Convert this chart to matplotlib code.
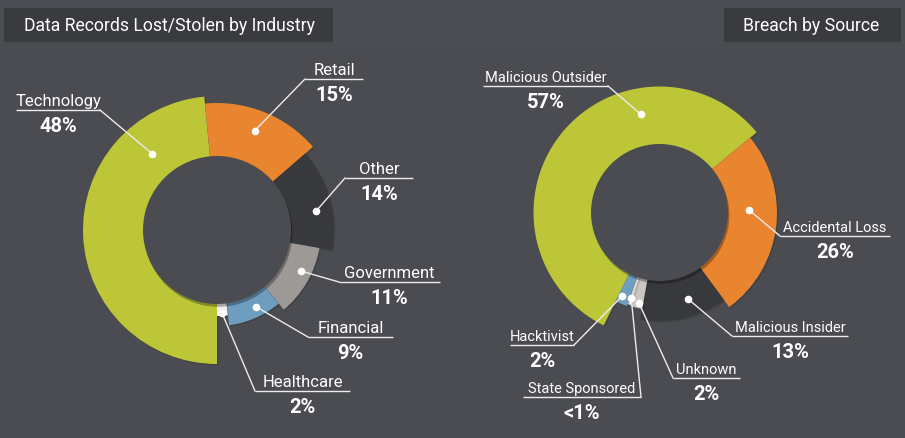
import matplotlib
matplotlib.use('Agg')
import matplotlib.pyplot as plt
import matplotlib.patheffects as pe
from matplotlib.patches import Wedge, Circle, Rectangle
import numpy as np

W, H = 905, 439

# --- data -------------------------------------------------------------
industry_names = ['Technology', 'Retail', 'Other', 'Government', 'Financial', 'Healthcare']
industry_values = [48, 15, 14, 11, 9, 2]
industry_pct = ['48%', '15%', '14%', '11%', '9%', '2%']

source_names = ['Malicious Outsider', 'Accidental Loss', 'Malicious Insider',
                'Unknown', 'State Sponsored', 'Hacktivist']
source_values = [57, 26, 13, 2, 0.5, 2]
source_pct = ['57%', '26%', '13%', '2%', '<1%', '2%']

# --- style ------------------------------------------------------------
BG = '#4b4c51'
BOX = '#3a3b3e'
LINE = '#ececec'

industry_colors = ['#bdc637', '#e9842f', '#38393c', '#9d9996', '#6f9dbf', '#eeeeee']
industry_radii = [134, 127, 117, 104, 96, 86]
source_colors = ['#bdc637', '#e9842f', '#38393c', '#c9c5c1', '#f2f2f2', '#6f9dbf']
source_radii = [126, 117.5, 108.5, 98, 97, 99]

# (dot position inside slice as fraction of span, dot radius,
#  underline x0, x1, y)  -- pixel coords, y from top
industry_labels = [
    (0.80, 100, 16, 100, 111),
    (0.48, 106, 305, 363, 80),
    (0.59, 101, 345, 413, 179),
    (0.40, 94, 339, 440, 283),
    (0.40, 86, 308, 393, 338),
    (0.53, 83, 255, 350, 392),
]
source_labels = [
    (0.70, 100, 483, 608, 87),
    (0.41, 90, 780, 890, 237),
    (0.39, 91, 732, 848, 337),
    (0.35, 93, 673, 740, 379),
    (0.55, 90, 523, 641, 398),
    (0.70, 92, 510, 574, 346),
]

plt.rcParams['font.family'] = ['Roboto', 'DejaVu Sans']


def py(y):
    return H - y


def donut(ax, center, r_in, start, values, radii, colors, names, pcts,
          labels, name_size):
    cx, cy = center
    spans = np.array(values, dtype=float) / sum(values) * 360.0
    a0 = start
    shadow = [pe.SimplePatchShadow(offset=(1, -1), shadow_rgbFace='black',
                                   alpha=0.12), pe.Normal()]
    geo = []
    for span, r, c in zip(spans, radii, colors):
        a1 = a0 + span
        w = Wedge((cx, py(cy)), r, 90 - a1, 90 - a0, facecolor=c,
                  edgecolor='none', zorder=2)
        w.set_path_effects(shadow)
        ax.add_patch(w)
        geo.append((a0, span))
        a0 = a1

    hole = Circle((cx, py(cy)), r_in, facecolor=BG, edgecolor='none', zorder=3)
    hole.set_path_effects([pe.SimplePatchShadow(offset=(1, -2),
                                                shadow_rgbFace='black',
                                                alpha=0.3), pe.Normal()])
    ax.add_patch(hole)

    for (a, span), name, pct, lab in zip(geo, names, pcts, labels):
        frac, dr, x0, x1, ly = lab
        ang = np.radians(a + frac * span)
        dx = cx + dr * np.sin(ang)
        dy = py(cy) + dr * np.cos(ang)
        end_x = x0 if abs(dx - x0) < abs(dx - x1) else x1
        ax.plot([x0, x1], [py(ly), py(ly)], color=LINE, lw=1.0, zorder=4,
                solid_capstyle='butt')
        ax.plot([end_x, dx], [py(ly), dy], color=LINE, lw=1.0, zorder=4)
        ax.plot(dx, dy, 'o', color='white', ms=5.5, mec='none', zorder=5)
        xm = (x0 + x1) / 2
        ax.text(xm, py(ly) + 5, name, color='white', fontsize=name_size,
                ha='center', va='baseline', zorder=5)
        ax.text(xm, py(ly) - 6, pct, color='white', fontsize=14.5,
                fontweight='bold', ha='center', va='top', zorder=5)


fig = plt.figure(figsize=(W / 100, H / 100), dpi=100)
fig.patch.set_facecolor(BG)
ax = fig.add_axes([0, 0, 1, 1])
ax.set_xlim(0, W)
ax.set_ylim(0, H)
ax.axis('off')

# header strip and title boxes
ax.add_patch(Rectangle((0, py(43)), W, 43, facecolor='#4d4e53',
                       edgecolor='none', zorder=0))
ax.add_patch(Rectangle((4, py(43)), 329, 34, facecolor=BOX,
                       edgecolor='none', zorder=1))
ax.add_patch(Rectangle((724, py(43)), 177, 34, facecolor=BOX,
                       edgecolor='none', zorder=1))
ax.text(24, py(26), 'Data Records Lost/Stolen by Industry', color='white',
        fontsize=12.7, ha='left', va='center', zorder=2)
ax.text(743, py(26), 'Breach by Source', color='white',
        fontsize=12.7, ha='left', va='center', zorder=2)

donut(ax, (217, 231), 74, 180, industry_values, industry_radii,
      industry_colors, industry_names, industry_pct, industry_labels, 12)
donut(ax, (659.5, 213.5), 68.5, 206.3, source_values, source_radii,
      source_colors, source_names, source_pct, source_labels, 10.5)

fig.savefig('out.png', dpi=100, facecolor=BG)
